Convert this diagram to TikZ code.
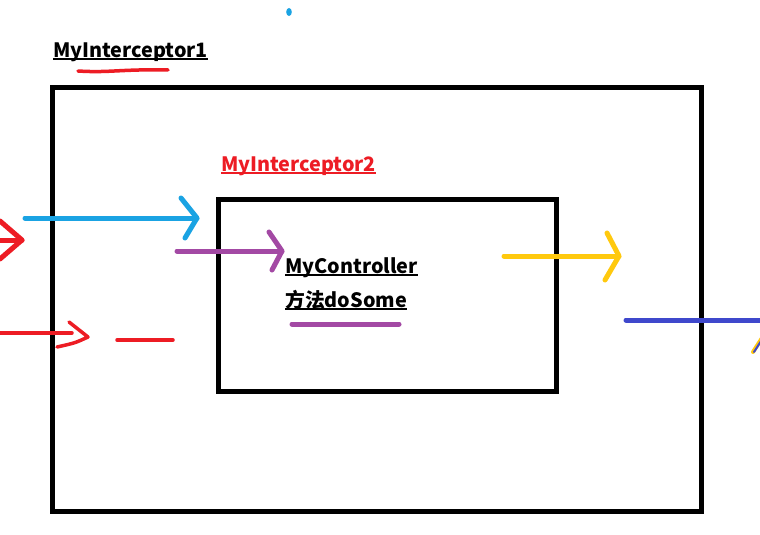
\documentclass[tikz,border=0pt]{standalone}
\usepackage{fontspec}
\setmainfont{Noto Sans CJK SC}
\definecolor{pred}{HTML}{ED1C24}
\definecolor{pblue}{HTML}{1AA3E3}
\definecolor{ppurple}{HTML}{A349A4}
\definecolor{pyellow}{HTML}{FFC90E}
\definecolor{pdblue}{HTML}{3F48CC}
\begin{document}
\begin{tikzpicture}[x=1pt,y=-1pt,
  stroke/.style={line width=5pt,line cap=round,line join=round},
  frame/.style={draw=black,line width=5pt,inner sep=0pt,anchor=north west},
  lab/.style={font=\fontsize{19.8}{23}\selectfont\bfseries,inner sep=0pt,anchor=base west},
  uline/.style={line width=1.6pt}]
\useasboundingbox (0,0) rectangle (760,535);
\fill[white] (0,0) rectangle (760,535);
% boxes
\node[frame,minimum width=649pt,minimum height=424pt] (outer) at (50,85) {};
\node[frame,minimum width=338pt,minimum height=192pt] (inner) at (216,197) {};
% labels
\node[lab] (l1) at (53,57) {MyInterceptor1};
\draw[uline] ([yshift=-2pt]l1.base west) -- ([yshift=-2pt]l1.base east);
\node[lab,text=pred] (l2) at (221,171) {MyInterceptor2};
\draw[uline,pred] ([yshift=-2pt]l2.base west) -- ([yshift=-2pt]l2.base east);
\node[lab] (c1) at (285,273) {MyController};
\draw[uline] ([yshift=-2pt]c1.base west) -- ([yshift=-2pt]c1.base east);
\node[lab] (c2) at (285,307) {方法doSome};
\draw[uline] ([yshift=-2pt]c2.base west) -- ([yshift=-2pt]c2.base east);
% decorations
\coordinate (ru1) at (78,71); \coordinate (ru2) at (168,70);
\draw[stroke,pred,line width=3.5pt] (ru1) .. controls (110,73) and (120,69) .. (ru2);
\fill[pblue] (289,12) ellipse (2.8pt and 4pt);
\coordinate (pu1) at (292,324); \coordinate (pu2) at (399,324);
\draw[stroke,ppurple] (pu1) -- (pu2);
% red arrow (left, top)
\coordinate (ra0) at (0,240); \coordinate (ratip) at (22,240);
\draw[stroke,pred] (ra0) -- (ratip);
\draw[stroke,pred] (0,221) -- (ratip) -- (0,259);
% blue arrow
\coordinate (ba0) at (25,218); \coordinate (batip) at (197,218);
\draw[stroke,pblue] (ba0) -- (batip);
\draw[stroke,pblue] (181,198) -- (batip) -- (185,238);
% purple arrow
\coordinate (pa0) at (177,251); \coordinate (patip) at (282,251);
\draw[stroke,ppurple] (pa0) -- (patip);
\draw[stroke,ppurple] (269,232) -- (patip) -- (272,270);
% red arrow (left, bottom)
\coordinate (rb0) at (0,333); \coordinate (rbtip) at (88,337);
\draw[stroke,pred,line width=3.5pt] (rb0) -- (72,333);
\draw[stroke,pred,line width=3.5pt] (69,322) -- (rbtip) .. controls (75,343) .. (57,347);
\coordinate (rd1) at (117,340); \coordinate (rd2) at (173,340);
\draw[stroke,pred,line width=3.5pt] (rd1) -- (rd2);
% yellow arrow
\coordinate (ya0) at (504,256); \coordinate (yatip) at (619,256);
\draw[stroke,pyellow] (ya0) -- (yatip);
\draw[stroke,pyellow] (607,233) -- (yatip) -- (605,280);
% dark blue line
\coordinate (da0) at (626,320); \coordinate (da1) at (762,320);
\draw[stroke,pdblue] (da0) -- (da1);
\coordinate (t1) at (753,352); \coordinate (t2) at (762,338);
\draw[stroke,pyellow,line width=4pt] (t1) -- (t2);
\draw[stroke,pdblue,line width=2pt] ([xshift=1pt]t1) -- ([xshift=1pt]t2);
\end{tikzpicture}
\end{document}
